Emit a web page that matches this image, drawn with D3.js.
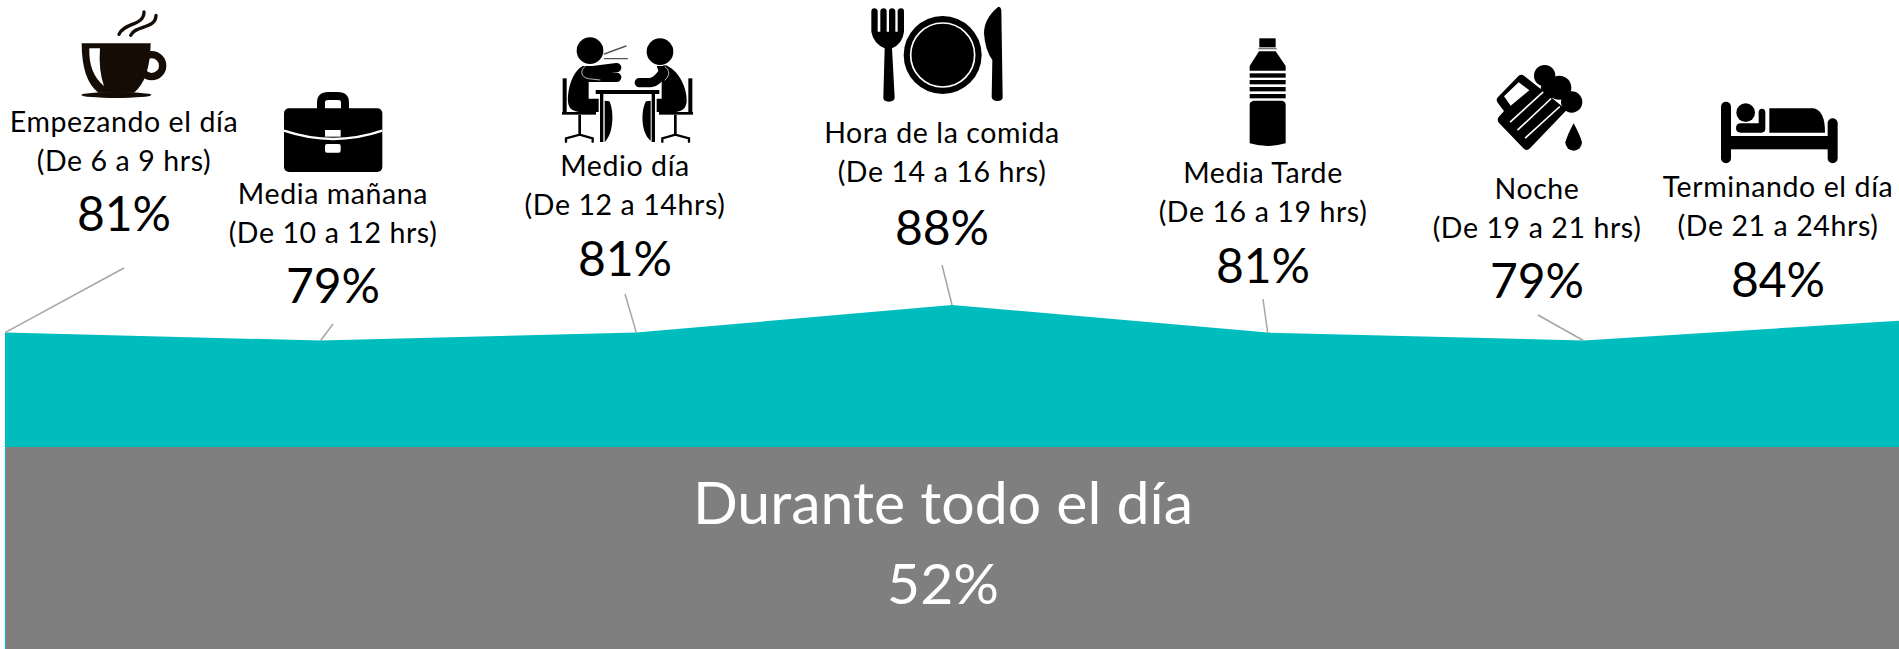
<!DOCTYPE html>
<html>
<head>
<meta charset="utf-8">
<script src="https://cdn.jsdelivr.net/npm/d3@7"></script>
<style>
    html, body { margin: 0; padding: 0; background: #fff; overflow: hidden; }
    svg { display: block; }
    text { font-family: Lato, "Open Sans", sans-serif; text-anchor: middle; }
</style>
</head>
<body>
<div id="chart"></div>
<script>
const categories = ["Empezando el día", "Media mañana", "Medio día", "Hora de la comida", "Media Tarde", "Noche", "Terminando el día"];
const timeRanges = ["(De 6 a 9 hrs)", "(De 10 a 12 hrs)", "(De 12 a 14hrs)", "(De 14 a 16 hrs)", "(De 16 a 19 hrs)", "(De 19 a 21 hrs)", "(De 21 a 24hrs)"];
const values = [81, 79, 81, 88, 81, 79, 84];
const overallLabel = "Durante todo el día";
const overallValue = 52;

// label block: centre x, baselines of the three lines, top end of the leader
const labelX = [124, 333, 625, 942, 1263, 1537, 1778];
const labelY = [132, 204, 176, 143, 183, 199, 197];
const pctY = [231, 303, 276, 245, 283, 298, 297];
const leaderTop = [[124, 268], [333, 324], [625, 294], [942, 265], [1263, 299], [1538, 315], null];

const width = 1899, height = 649;
const teal = "#00bdbd", grey = "#7f7f7f", ink = "#000";

const svg = d3.select("#chart").append("svg").attr("width", width).attr("height", height);

const x = d3.scalePoint().domain(categories).range([5, width]);
const y = d3.scaleLinear().domain([overallValue, 88]).range([447, 305]);

const area = d3.area()
    .x((d, i) => x(categories[i]))
    .y0(height)
    .y1(d => y(d));

svg.append("path")
    .datum(values)
    .attr("d", area)
    .attr("fill", teal);

svg.append("rect")
    .attr("x", x(categories[0]) + 1)
    .attr("y", y(overallValue))
    .attr("width", width - x(categories[0]) - 1)
    .attr("height", height - y(overallValue))
    .attr("fill", grey);

svg.append("g").selectAll("line")
    .data(categories.filter((c, i) => leaderTop[i]))
    .join("line")
    .attr("x1", (c, i) => leaderTop[i][0])
    .attr("y1", (c, i) => leaderTop[i][1])
    .attr("x2", c => x(c))
    .attr("y2", (c, i) => y(values[i]))
    .attr("stroke", "#a6a6a6")
    .attr("stroke-width", 1.5);

const labels = svg.append("g").selectAll("g")
    .data(categories)
    .join("g")
    .attr("transform", (c, i) => `translate(${labelX[i]},0)`);

labels.append("text")
    .attr("y", (c, i) => labelY[i])
    .attr("font-size", 28.5)
    .attr("letter-spacing", 0.6)
    .attr("fill", ink)
    .text(c => c);

labels.append("text")
    .attr("y", (c, i) => labelY[i] + 39)
    .attr("font-size", 28.5)
    .attr("letter-spacing", 0.6)
    .attr("fill", ink)
    .text((c, i) => timeRanges[i]);

labels.append("text")
    .attr("y", (c, i) => pctY[i])
    .attr("font-size", 48)
    .attr("fill", ink)
    .text((c, i) => values[i] + "%");

svg.append("text")
    .attr("x", 943)
    .attr("y", 524)
    .attr("font-size", 59)
    .attr("fill", "#fff")
    .text(overallLabel);

svg.append("text")
    .attr("x", 943)
    .attr("y", 604)
    .attr("font-size", 57)
    .attr("fill", "#fff")
    .text(overallValue + "%");

// icons, drawn at 3x in the coordinates of their crop and scaled down
function icon(cropX, cropY, fill) {
    return svg.append("g")
        .attr("transform", `translate(${cropX},${cropY}) scale(${1 / 3})`)
        .attr("fill", fill || ink);
}
function stroke(g, d, w, color) {
    return g.append("path").attr("d", d).attr("fill", "none")
        .attr("stroke", color).attr("stroke-width", w).attr("stroke-linecap", "round");
}

function drawCup() {
    const c = "#140c05";
    const g = icon(0, 0, c);
    stroke(g, "M357,103 C370,68 432,78 432,36", 10, c);
    stroke(g, "M392,106 C405,75 468,88 468,46", 10, c);
    g.append("path").attr("d", "M245,130 L452,130 Q450,240 402,278 L295,278 Q245,240 245,130Z");
    g.append("ellipse").attr("cx", 349).attr("cy", 285).attr("rx", 105).attr("ry", 9);
    g.append("circle").attr("cx", 455).attr("cy", 197).attr("r", 33)
        .attr("fill", "none").attr("stroke", c).attr("stroke-width", 22);
    g.append("path").attr("d", "M268,145 L300,145 Q295,210 312,258 Q265,220 268,145Z").attr("fill", "#fff");
}

function drawBriefcase() {
    const g = icon(0, 0);
    stroke(g, "M963,330 L963,308 Q963,288 985,288 L1013,288 Q1035,288 1035,308 L1035,330", 24, ink);
    g.append("rect").attr("x", 852).attr("y", 325).attr("width", 295).attr("height", 191).attr("rx", 15);
    g.append("path").attr("d", "M852,392 Q1000,442 1147,392").attr("fill", "none").attr("stroke", "#fff").attr("stroke-width", 7);
    g.append("rect").attr("x", 975).attr("y", 390).attr("width", 47).attr("height", 20).attr("fill", "#fff");
    g.append("rect").attr("x", 975).attr("y", 432).attr("width", 47).attr("height", 26).attr("rx", 6).attr("fill", "#fff");
}

function drawPeople() {
    const g = icon(550, 30);
    g.append("circle").attr("cx", 120).attr("cy", 62).attr("r", 40);
    g.append("circle").attr("cx", 330).attr("cy", 65).attr("r", 40);
    stroke(g, "M163,72 L228,48", 4, "#555");
    stroke(g, "M163,86 L232,86", 4, "#555");
    // left person
    g.append("path").attr("d", "M98,108 C68,125 52,175 54,215 C56,238 72,246 95,246 L146,246 L146,206 L116,206 L116,150 L130,108Z");
    stroke(g, "M104,125 L200,113", 28, ink);
    stroke(g, "M110,142 L200,142", 28, ink);
    stroke(g, "M104,110 C88,125 95,142 115,146 L150,150", 2.5, "#ddd");
    g.append("path").attr("d", "M164,212 L178,214 C192,240 192,310 164,336Z");
    // right person
    g.append("path").attr("d", "M352,108 C388,125 412,175 410,215 C408,238 392,246 370,246 L320,246 L320,206 L335,206 L335,150 L320,108Z");
    stroke(g, "M268,158 L300,158 C325,155 335,130 345,120", 28, ink);
    stroke(g, "M345,110 C362,122 358,140 345,150", 2.5, "#ddd");
    g.append("path").attr("d", "M302,212 L288,214 C272,240 272,310 302,332Z");
    // table
    g.append("rect").attr("x", 137).attr("y", 180).attr("width", 191).attr("height", 12);
    g.append("rect").attr("x", 150).attr("y", 192).attr("width", 10).attr("height", 144);
    g.append("rect").attr("x", 305).attr("y", 192).attr("width", 10).attr("height", 144);
    // chairs
    [0, 1].forEach(side => {
        const ch = g.append("g").attr("transform", side ? "translate(465,0) scale(-1,1)" : null);
        ch.append("rect").attr("x", 38).attr("y", 145).attr("width", 12).attr("height", 105);
        ch.append("rect").attr("x", 36).attr("y", 246).attr("width", 102).attr("height", 8);
        ch.append("rect").attr("x", 85).attr("y", 254).attr("width", 8).attr("height", 62);
        stroke(ch, "M48,335 L48,325 L89,314 L128,325 L128,335", 7, ink);
    });
}

function drawCutlery() {
    const g = icon(860, 0);
    g.append("path").attr("d", "M34,35 Q34,25 43,25 Q52,25 53,33 L53,95 L61,95 L61,33 Q62,25 71,25 Q79,25 80,33 L80,95 L87,95 L87,33 Q88,25 96,25 Q105,25 106,33 L106,95 L113,95 L113,33 Q114,25 123,25 Q132,25 132,35 L132,95 Q128,130 96,145 L104,292 Q104,305 87,305 Q69,305 70,292 L74,145 Q40,130 34,95Z");
    g.append("circle").attr("cx", 248).attr("cy", 165).attr("r", 117);
    g.append("circle").attr("cx", 248).attr("cy", 165).attr("r", 96)
        .attr("fill", "none").attr("stroke", "#fff").attr("stroke-width", 5);
    g.append("path").attr("d", "M415,20 Q372,55 372,100 Q375,150 397,180 L395,292 Q397,303 412,303 Q428,303 428,292 L424,30 Q422,20 415,20Z");
}

function drawBottle() {
    const g = icon(1235, 30);
    g.append("rect").attr("x", 73).attr("y", 25).attr("width", 49).attr("height", 27);
    g.append("rect").attr("x", 70).attr("y", 54).attr("width", 55).attr("height", 4).attr("fill", "#777");
    g.append("path").attr("d", "M72,64 L122,64 L152,108 L152,122 L44,122 L44,108Z");
    [130, 150, 171, 192].forEach(t => {
        g.append("rect").attr("x", 44).attr("y", t).attr("width", 108).attr("height", 13);
    });
    g.append("path").attr("d", "M44,224 Q44,215 55,212 L142,212 Q152,215 152,224 L152,340 Q98,356 44,340Z");
}

function drawBeer() {
    const g = icon(1480, 55);
    g.append("path").attr("d", "M52,128 L116,62 Q124,56 132,62 L200,116 L260,165 L150,280 Q140,290 130,280 L58,205 Q48,194 58,184 L72,168 L58,150 Q46,138 52,128Z");
    g.append("path").attr("d", "M72,124 L116,82 L148,106 L92,152Z").attr("fill", "#fff");
    g.append("circle").attr("cx", 194).attr("cy", 62).attr("r", 32);
    g.append("circle").attr("cx", 238).attr("cy", 98).attr("r", 36);
    g.append("circle").attr("cx", 275).attr("cy", 141).attr("r", 32);
    g.append("circle").attr("cx", 212).attr("cy", 100).attr("r", 30);
    stroke(g, "M92,200 L188,112", 5, "#fff");
    stroke(g, "M114,224 L212,132", 5, "#fff");
    stroke(g, "M137,248 L238,156", 5, "#fff");
    g.append("path").attr("d", "M281,205 Q262,240 256,262 A25,25 0 1 0 306,262 Q300,240 281,205Z");
}

function drawBed() {
    const g = icon(1710, 90);
    stroke(g, "M48,50 L48,205", 30, ink);
    stroke(g, "M368,100 L368,205", 30, ink);
    g.append("rect").attr("x", 48).attr("y", 138).attr("width", 320).attr("height", 40);
    g.append("circle").attr("cx", 107).attr("cy", 68).attr("r", 28);
    g.append("path").attr("d", "M92,100 L146,100 L146,66 Q147,56 156,56 Q165,56 166,66 L166,118 Q165,128 155,128 L92,128 Q78,128 78,114 Q78,100 92,100Z");
    g.append("path").attr("d", "M178,55 L310,55 Q345,60 345,128 L178,128Z");
}

drawCup();
drawBriefcase();
drawPeople();
drawCutlery();
drawBottle();
drawBeer();
drawBed();
</script>
</body>
</html>
